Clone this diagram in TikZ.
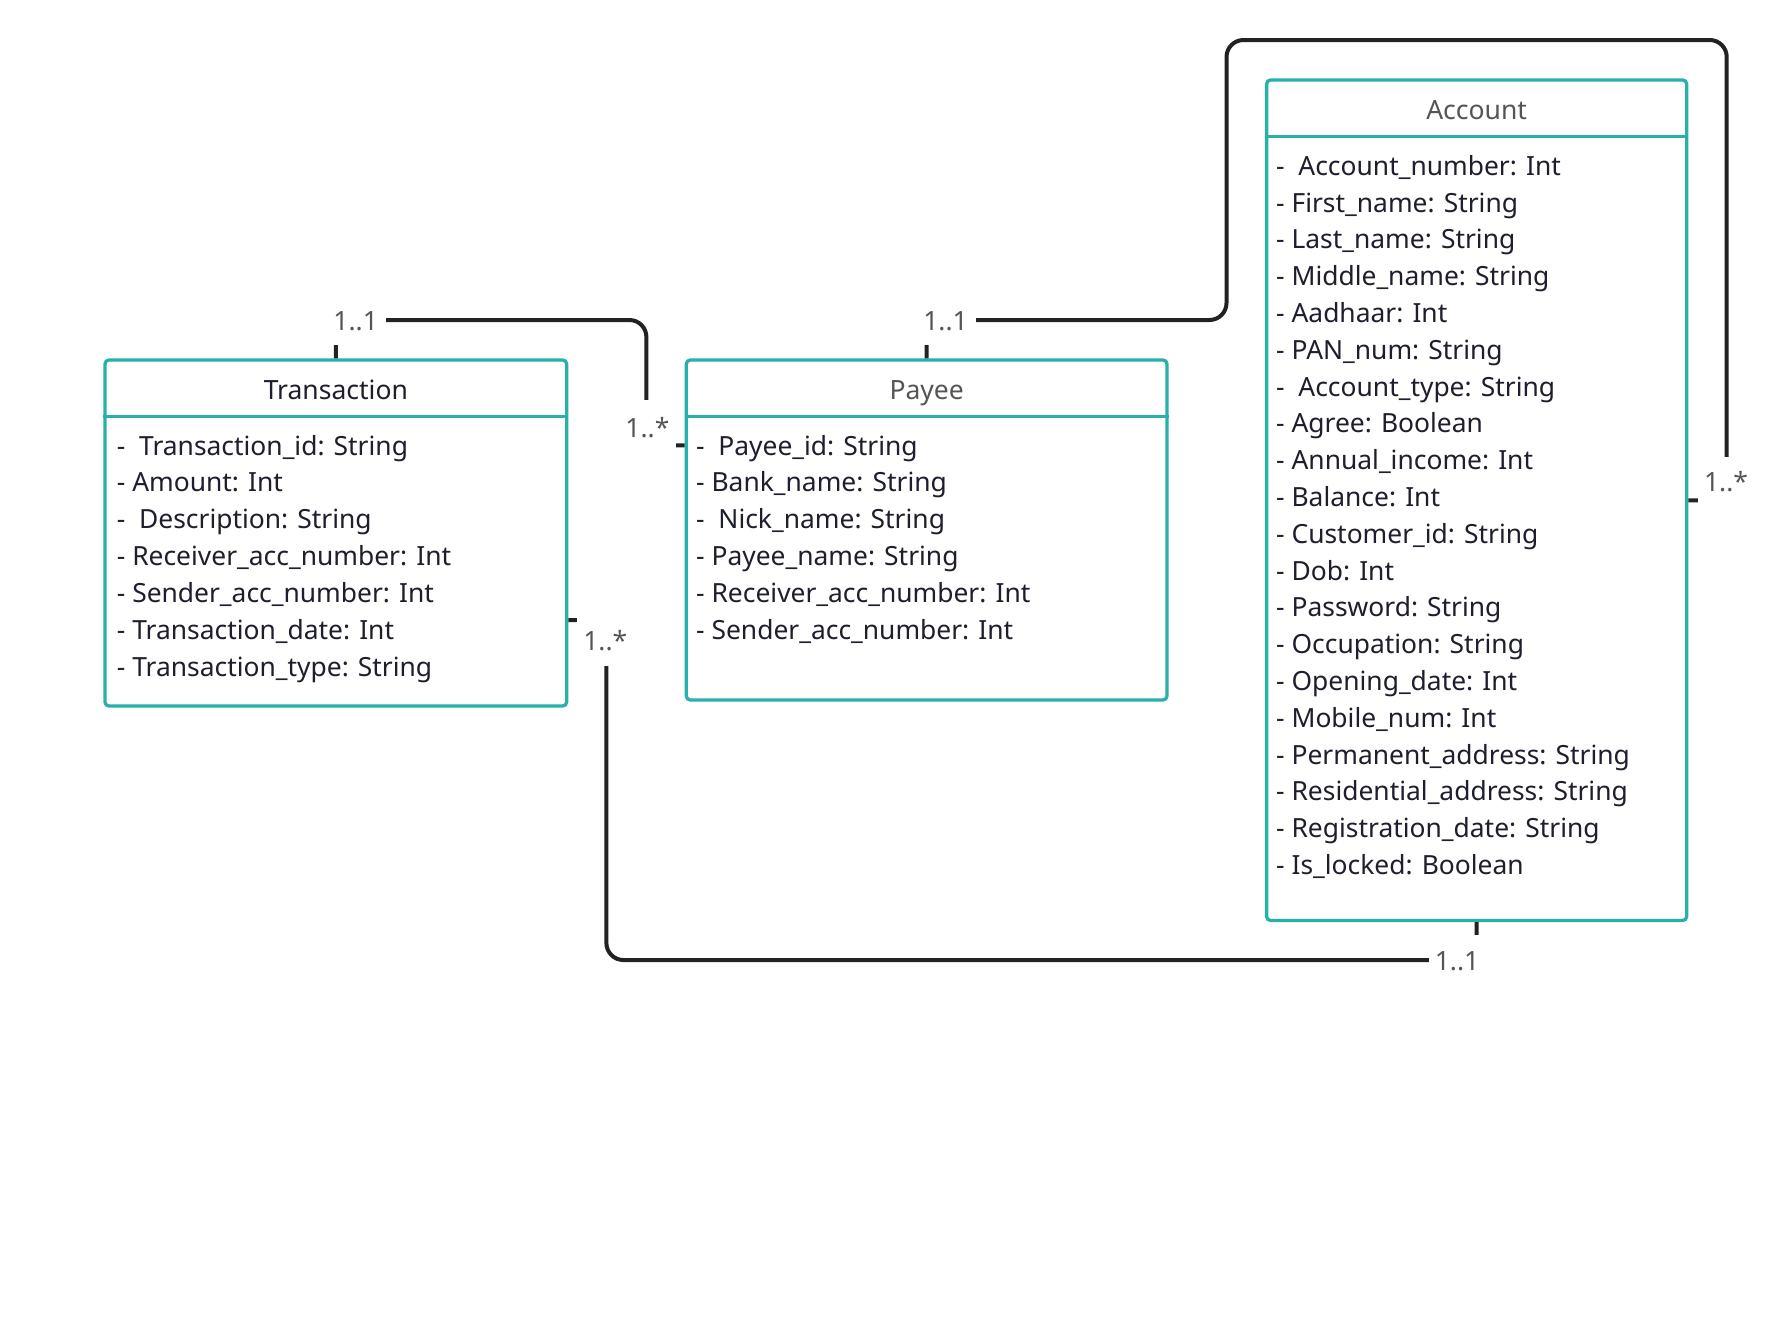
\documentclass[tikz,border=0pt]{standalone}
\usepackage{fontspec}
\setmainfont{Noto Sans}
\definecolor{boxteal}{RGB}{40,176,170}
\definecolor{txtdark}{RGB}{30,30,46}
\definecolor{txtgrey}{RGB}{85,85,85}
\definecolor{linedark}{RGB}{34,34,34}
\tikzset{
  classbox/.style={draw=boxteal, line width=3.3pt, rounded corners=4pt, inner sep=0pt, fill=white},
  divider/.style={draw=boxteal, line width=3.3pt},
  attr/.style={anchor=base west, inner sep=0pt, text=txtdark, font=\fontsize{26.4}{30}\selectfont},
  ctitle/.style={anchor=base, inner sep=0pt, font=\fontsize{26.5}{30}\selectfont},
  conn/.style={draw=linedark, line width=4pt, rounded corners=17pt},
  mult/.style={fill=white, inner sep=0pt, text=txtgrey, text height=19pt, text depth=0pt, font=\fontsize{26.5}{30}\selectfont}
}
\begin{document}
\begin{tikzpicture}[x=1pt,y=-1pt]
\useasboundingbox (0,0) rectangle (1789,1320);

% class boxes
\node[classbox, minimum width=461.7pt, minimum height=346pt] (trans) at (335.85,533) {};
\node[classbox, minimum width=480.7pt, minimum height=340pt] (pay) at (926.65,530) {};
\node[classbox, minimum width=420.1pt, minimum height=840.5pt] (acc) at (1476.65,500.25) {};

\draw[divider] (trans.west |- 0,416.7) -- (trans.east |- 0,416.7);
\draw[divider] (pay.west |- 0,416.7) -- (pay.east |- 0,416.7);
\draw[divider] (acc.west |- 0,136.7) -- (acc.east |- 0,136.7);

\node[ctitle, text=txtdark] (transtitle) at (trans.north |- 0,399.3) {Transaction};
\node[ctitle, text=txtgrey] (paytitle) at (pay.north |- 0,399.3) {Payee};
\node[ctitle, text=txtgrey] (acctitle) at (acc.north |- 0,119.3) {Account};

\foreach \t [count=\i] in {{-~~Transaction\_id: String},{- Amount: Int},{-~~Description: String},{- Receiver\_acc\_number: Int},{- Sender\_acc\_number: Int},{- Transaction\_date: Int},{- Transaction\_type: String}}
  \node[attr] (trans-\i) at (116.7,{455+36.85*(\i-1)}) {\t};

\foreach \t [count=\i] in {{-~~Payee\_id: String},{- Bank\_name: String},{-~~Nick\_name: String},{- Payee\_name: String},{- Receiver\_acc\_number: Int},{- Sender\_acc\_number: Int}}
  \node[attr] (pay-\i) at (696,{455+36.85*(\i-1)}) {\t};

\foreach \t [count=\i] in {{-~~Account\_number: Int},{- First\_name: String},{- Last\_name: String},{- Middle\_name: String},{- Aadhaar: Int},{- PAN\_num: String},{-~~Account\_type: String},{- Agree: Boolean},{- Annual\_income: Int},{- Balance: Int},{- Customer\_id: String},{- Dob: Int},{- Password: String},{- Occupation: String},{- Opening\_date: Int},{- Mobile\_num: Int},{- Permanent\_address: String},{- Residential\_address: String},{- Registration\_date: String},{- Is\_locked: Boolean}}
  \node[attr] (acc-\i) at (1276,{175.2+36.8*(\i-1)}) {\t};

% connectors
\draw[conn] (trans.north) -- (trans.north |- 0,320) -- (646.4,320) -- (646.4,445.4) -- (pay.west |- 0,445.4);
\draw[conn] (pay.north) -- (pay.north |- 0,320) -- (1226.5,320) -- (1226.5,40) -- (1726.7,40) -- (1726.7,500.25) -- (acc.east);
\draw[conn] (trans.east |- 0,620) -- (606.4,620) -- (606.4,960) -- (acc.south |- 0,960) -- (acc.south);

% multiplicities
\node[mult, minimum width=60.6pt, minimum height=48pt] (m1) at (355.7,321) {1..1};
\node[mult, minimum width=57.2pt, minimum height=56.6pt] (m2) at (647.4,428) {1..*};
\node[mult, minimum width=61pt, minimum height=48pt] (m3) at (945.5,321) {1..1};
\node[mult, minimum width=56pt, minimum height=50.4pt] (m4) at (1726,482) {1..*};
\node[mult, minimum width=56.6pt, minimum height=49.6pt] (m5) at (605.3,641) {1..*};
\node[mult, minimum width=56.8pt, minimum height=51.6pt] (m6) at (1457,960.8) {1..1};
\end{tikzpicture}
\end{document}
